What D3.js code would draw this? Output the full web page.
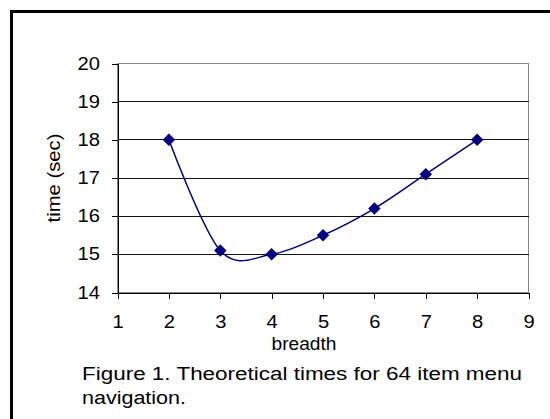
<!DOCTYPE html>
<html>
<head>
<meta charset="utf-8">
<script src="https://cdn.jsdelivr.net/npm/d3@7"></script>
<style>
	body { margin: 0; background: #fff; }
	text { font-family: "Liberation Sans", Arial, sans-serif; fill: #000; }
</style>
</head>
<body>
<svg id="chart" width="550" height="419"></svg>
<script>
	// breadth vs theoretical time (sec)
	var breadth = [2, 3, 4, 5, 6, 7, 8];
	var times = [18, 15.1, 15.0, 15.5, 16.2, 17.1, 18];
	var xTicks = [1, 2, 3, 4, 5, 6, 7, 8, 9];
	var yTicks = [14, 15, 16, 17, 18, 19, 20];
	var caption = ["Figure 1. Theoretical times for 64 item menu", "navigation."];

	var points = breadth.map(function (b, i) { return {x: b, y: times[i]}; });

	var plotL = 117.5, plotR = 528.5, plotT = 63.5, plotB = 292.5;
	var fs = 17.5;
	var digitW = 11.2; // the original's text is drawn a bit wider than Liberation
	var fmt = d3.format("d");
	var svg = d3.select("#chart");

	// outer frame (runs off the right and bottom)
	svg.append("rect")
		.attr("x", 11.5).attr("y", 11.5)
		.attr("width", 600).attr("height", 460)
		.style("fill", "#fff").style("stroke", "#000").style("stroke-width", 3);

	var x = d3.scaleLinear().domain([1, 9]).range([plotL, plotR]);
	var y = d3.scaleLinear().domain([14, 20]).range([plotB, plotT]);

	// plot area border (grey top / right)
	svg.append("rect")
		.attr("x", plotL).attr("y", plotT)
		.attr("width", plotR - plotL).attr("height", plotB - plotT)
		.style("fill", "#fff").style("stroke", "#888").style("stroke-width", 1)
		.attr("shape-rendering", "crispEdges");

	// gridlines
	svg.selectAll(".grid")
		.data(yTicks.slice(1, -1))
		.enter().append("line")
		.attr("class", "grid")
		.attr("x1", plotL).attr("x2", plotR)
		.attr("y1", function (d) { return y(d); })
		.attr("y2", function (d) { return y(d); })
		.attr("shape-rendering", "crispEdges")
		.style("stroke", "#111").style("stroke-width", 1);

	var yAxis = d3.axisLeft(y).tickValues(yTicks).tickFormat(fmt).tickSize(6).tickPadding(11.5).tickSizeOuter(0);
	var xAxis = d3.axisBottom(x).tickValues(xTicks).tickFormat(fmt).tickSize(6).tickPadding(17).tickSizeOuter(0);

	var gy = svg.append("g").attr("transform", "translate(" + plotL + ",0)").call(yAxis);
	var gx = svg.append("g").attr("transform", "translate(0," + plotB + ")").call(xAxis);
	[gx, gy].forEach(function (g) {
		g.selectAll("path, line").style("stroke", "#000").attr("shape-rendering", "crispEdges");
		g.selectAll("text")
			.style("font-size", fs + "px")
			.style("font-family", "'Liberation Sans', Arial, sans-serif")
			.attr("textLength", function (d) { return fmt(d).length * digitW; })
			.attr("lengthAdjust", "spacingAndGlyphs");
	});

	// smoothed series
	var line = d3.line()
		.x(function (d) { return x(d.x); })
		.y(function (d) { return y(d.y); })
		.curve(d3.curveCardinal.tension(0));

	svg.append("path")
		.datum(points)
		.attr("d", line)
		.style("fill", "none").style("stroke", "#000080").style("stroke-width", 1.5);

	svg.selectAll(".pt")
		.data(points)
		.enter().append("path")
		.attr("class", "pt")
		.attr("d", d3.symbol(d3.symbolDiamond2, 100))
		.attr("transform", function (d) { return "translate(" + x(d.x) + "," + y(d.y) + ")"; })
		.style("fill", "#000080");

	svg.append("text")
		.attr("x", 304).attr("y", 350)
		.attr("text-anchor", "middle")
		.attr("textLength", 65).attr("lengthAdjust", "spacingAndGlyphs")
		.style("font-size", fs + "px")
		.text("breadth");

	svg.append("text")
		.attr("transform", "translate(60,178) rotate(-90)")
		.attr("text-anchor", "middle")
		.attr("textLength", 89).attr("lengthAdjust", "spacingAndGlyphs")
		.style("font-size", fs + "px")
		.text("time (sec)");

	var capW = [440, 104];
	svg.selectAll(".cap")
		.data(caption)
		.enter().append("text")
		.attr("class", "cap")
		.attr("x", 82)
		.attr("y", function (d, i) { return 380 + i * 23.5; })
		.attr("textLength", function (d, i) { return capW[i]; })
		.attr("lengthAdjust", "spacingAndGlyphs")
		.style("font-size", "18px")
		.text(function (d) { return d; });
</script>
</body>
</html>
